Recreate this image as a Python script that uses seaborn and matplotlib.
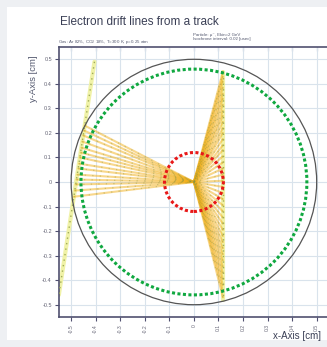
import numpy as np
import pandas as pd
import matplotlib
matplotlib.use("Agg")
import matplotlib.pyplot as plt
import seaborn as sns

# ------------------------------------------------------------
# data (cm)
# ------------------------------------------------------------
ticks = [-0.5, -0.4, -0.3, -0.2, -0.1, 0.0, 0.1, 0.2, 0.3, 0.4, 0.5]
tick_labels = ["-0.5", "-0.4", "-0.3", "-0.2", "-0.1", "0",
               "0.1", "0.2", "0.3", "0.4", "0.5"]

wire_x, wire_y = 0.0, 0.0
tube_radius = 0.5
green_radius = 0.46
red_radius = 0.12

# two muon tracks
left_track_x = [-0.405, -0.55]
left_track_y = [0.49, -0.46]
right_track_x = [0.118, 0.118]
right_track_y = [0.45, -0.48]

# electron start points (drift to the wire)
left_start_x = [-0.445, -0.448, -0.451, -0.455, -0.458, -0.461, -0.465,
                -0.468, -0.471, -0.475, -0.478, -0.481, -0.485, -0.489]
left_start_y = [0.23, 0.21, 0.19, 0.165, 0.14, 0.12, 0.10,
                0.075, 0.055, 0.03, 0.01, -0.01, -0.035, -0.06]
right_start_y = [0.45, 0.43, 0.41, 0.385, 0.36, 0.34, 0.315, 0.29, 0.27,
                 0.245, 0.22, 0.2, 0.175, 0.15, 0.13, 0.105, 0.08, 0.055,
                 0.03, 0.005, -0.02, -0.045, -0.07, -0.095, -0.12, -0.145,
                 -0.17, -0.195, -0.22, -0.245, -0.27, -0.295, -0.32, -0.345,
                 -0.37, -0.395, -0.42, -0.445, -0.47]

title = "Electron drift lines from a track"
gas_text = "Gas: Ar 82%, CO$_2$ 18%, T=300 K, p=0.25 atm"
particle_text = "Particle: \u03bc\u207b, Ekin=2 GeV\nIsochrone interval: 0.02 [usec]"

# ------------------------------------------------------------
# build a long table of drift lines
# ------------------------------------------------------------
rows = []
k = 0
for sx, sy in zip(left_start_x, left_start_y):
    rows.append((k, sx, sy))
    rows.append((k, wire_x, wire_y))
    k += 1
for sy in right_start_y:
    rows.append((k, right_track_x[0], sy))
    rows.append((k, wire_x, wire_y))
    k += 1
drift = pd.DataFrame(rows, columns=["line", "x", "y"])

tracks = pd.DataFrame({
    "track": ["left", "left", "right", "right"],
    "x": left_track_x + right_track_x,
    "y": left_track_y + right_track_y,
})

# ------------------------------------------------------------
# figure
# ------------------------------------------------------------
sns.set_theme(style="whitegrid")
plt.rcParams["font.family"] = ["Liberation Sans", "DejaVu Sans"]

fig = plt.figure(figsize=(3.27, 3.47), dpi=100, facecolor="#eef0f3")
fig.patches.append(plt.Rectangle((7 / 327, 0.02), 1.0, 0.96, transform=fig.transFigure,
                                 facecolor="white", edgecolor="none", zorder=-5))
ax = fig.add_axes([0.180, 0.0865, 0.826, 0.778])
ax.set_facecolor("white")

# tracks (pale yellow band)
sns.lineplot(data=tracks, x="x", y="y", units="track", estimator=None, sort=False,
             color="#f0f2a8", linewidth=3, ax=ax, zorder=2)

# drift lines
sns.lineplot(data=drift, x="x", y="y", units="line", estimator=None, sort=False,
             color="#f2b01a", alpha=0.5, linewidth=1.5, ax=ax, zorder=3)
# isochrone ticks along drift lines
sns.lineplot(data=drift, x="x", y="y", units="line", estimator=None, sort=False,
             color="#8a9440", alpha=0.4, linewidth=0.9, linestyle=(0, (1, 5)),
             ax=ax, zorder=4)
sns.lineplot(data=tracks, x="x", y="y", units="track", estimator=None, sort=False,
             color="#a0ac58", linewidth=1.0, linestyle=(0, (1, 3)), ax=ax, zorder=4)

# circles
ax.add_patch(plt.Circle((wire_x, wire_y), tube_radius, fill=False,
                        edgecolor="#555555", linewidth=0.9, zorder=5))
ax.add_patch(plt.Circle((wire_x, wire_y), green_radius, fill=False,
                        edgecolor="#10a840", linewidth=2.2, linestyle=(0, (1, 0.8)),
                        capstyle="butt", zorder=6))
ax.add_patch(plt.Circle((wire_x, wire_y), red_radius, fill=False,
                        edgecolor="#e81818", linewidth=2.2, linestyle=(0, (1, 0.8)),
                        capstyle="butt", zorder=6))

ax.set_xlim(-0.55, 0.55)
ax.set_ylim(-0.55, 0.55)
ax.set_xticks(ticks)
ax.set_yticks(ticks)
ax.set_xticklabels(tick_labels, rotation=90, fontsize=3.6, color="#666677")
ax.set_yticklabels(tick_labels, fontsize=4, color="#666677")
ax.set_xlabel("")
ax.set_ylabel("")
ax.grid(True, color="#d9e3ec", linewidth=0.8)
ax.tick_params(axis="both", direction="out", length=3, width=0.8, color="#505070",
               pad=2, left=True, bottom=True)
for side in ["left", "bottom", "top", "right"]:
    ax.spines[side].set_color("#505070")
    ax.spines[side].set_linewidth(1.2)

top = ax.secondary_xaxis("top")
top.set_xticks(ticks)
top.tick_params(direction="in", length=3, width=0.8, color="#505070", labeltop=False)
top.spines["top"].set_visible(False)

# texts
fig.text(60 / 327, 1 - 16 / 347, title, fontsize=8.5, color="#3a3f55", va="top", ha="left")
fig.text(58 / 327, 1 - 42 / 347, gas_text, fontsize=3.2, color="#555a70", va="center", ha="left")
fig.text(193 / 327, 1 - 37 / 347, particle_text, fontsize=3.2, color="#555a70",
         va="center", ha="left", linespacing=1.2)
fig.text(33 / 327, 1 - 55 / 347, "y-Axis [cm]", fontsize=6.8, color="#555a70",
         rotation=90, va="top", ha="center")
fig.text(273 / 327, 1 - 336 / 347, "x-Axis [cm]", fontsize=7, color="#3a3f55",
         va="center", ha="left")

fig.savefig("out.png", dpi=100, facecolor=fig.get_facecolor())
